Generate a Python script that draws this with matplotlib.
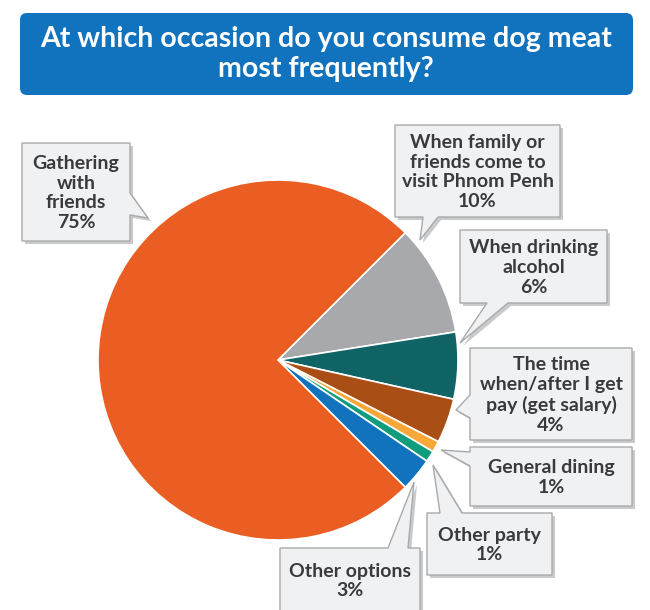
import matplotlib.pyplot as plt
from matplotlib.patches import FancyBboxPatch, Polygon

plt.rcParams['font.family'] = ['Lato', 'DejaVu Sans']

labels = ['When family or\nfriends come to\nvisit Phnom Penh',
          'When drinking\nalcohol',
          'The time\nwhen/after I get\npay (get salary)',
          'General dining',
          'Other party',
          'Other options',
          'Gathering\nwith\nfriends']
values = [10, 6, 4, 1, 1, 3, 75]
colors = ['#A7A9AC', '#116466', '#A94F16', '#F7A839', '#0F9D7D', '#1173BD', '#EB5E23']

W, H = 650, 610
fig = plt.figure(figsize=(W / 100, H / 100), dpi=100)
ax = fig.add_axes([0, 0, 1, 1])


def fy(y):
    # work in pixel rows from the top
    return H - y


ax.pie(values, colors=colors, startangle=45, counterclock=False,
       center=(278, fy(360)), radius=180,
       wedgeprops=dict(edgecolor='white', linewidth=1.2))
ax.set_xlim(0, W)
ax.set_ylim(0, H)
ax.set_aspect('equal')
ax.axis('off')

# title banner
ax.add_patch(FancyBboxPatch((20, fy(95)), 613, 82,
                            boxstyle='round,pad=0,rounding_size=7',
                            fc='#1172BD', ec='none'))
ax.text(326, fy(54), 'At which occasion do you consume dog meat\nmost frequently?',
        ha='center', va='center', color='white', fontsize=20.5,
        fontweight='bold', linespacing=1.15)


def callout(box, side, base, tip, text):
    x0, y0, x1, y1 = box
    b0, b1 = base
    if side == 'right':
        pts = [(x0, y0), (x1, y0), (x1, b0), tip, (x1, b1), (x1, y1), (x0, y1)]
    elif side == 'left':
        pts = [(x0, y0), (x1, y0), (x1, y1), (x0, y1), (x0, b1), tip, (x0, b0)]
    elif side == 'bottom':
        pts = [(x0, y0), (x1, y0), (x1, y1), (b1, y1), tip, (b0, y1), (x0, y1)]
    else:
        pts = [(x0, y0), (b0, y0), tip, (b1, y0), (x1, y0), (x1, y1), (x0, y1)]
    shadow = [(x + 3, fy(y + 3)) for x, y in pts]
    ax.add_patch(Polygon(shadow, closed=True, fc='#C9CACC', ec='none', zorder=4))
    ax.add_patch(Polygon([(x, fy(y)) for x, y in pts], closed=True,
                         fc='#F0F1F3', ec='#A9AAAC', lw=1, zorder=5))
    ax.text((x0 + x1) / 2, fy((y0 + y1) / 2 + 1), text, ha='center', va='center',
            color='#3A3A3C', fontsize=14, fontweight='bold',
            linespacing=1.2, zorder=6)


boxes = [
    ((395, 125, 560, 217), 'bottom', (423, 438), (420, 240)),
    ((460, 230, 607, 303), 'bottom', (487, 508), (460, 343)),
    ((470, 348, 632, 440), 'left', (395, 418), (456, 410)),
    ((470, 447, 632, 506), 'left', (452, 466), (441, 450)),
    ((427, 513, 552, 575), 'top', (440, 462), (433, 465)),
    ((280, 548, 420, 612), 'top', (388, 408), (414, 482)),
    ((22, 143, 130, 241), 'right', (193, 215), (148, 218)),
]

for (box, side, base, tip), lab, v in zip(boxes, labels, values):
    callout(box, side, base, tip, f'{lab}\n{v}%')

fig.savefig('out.png', dpi=100)
